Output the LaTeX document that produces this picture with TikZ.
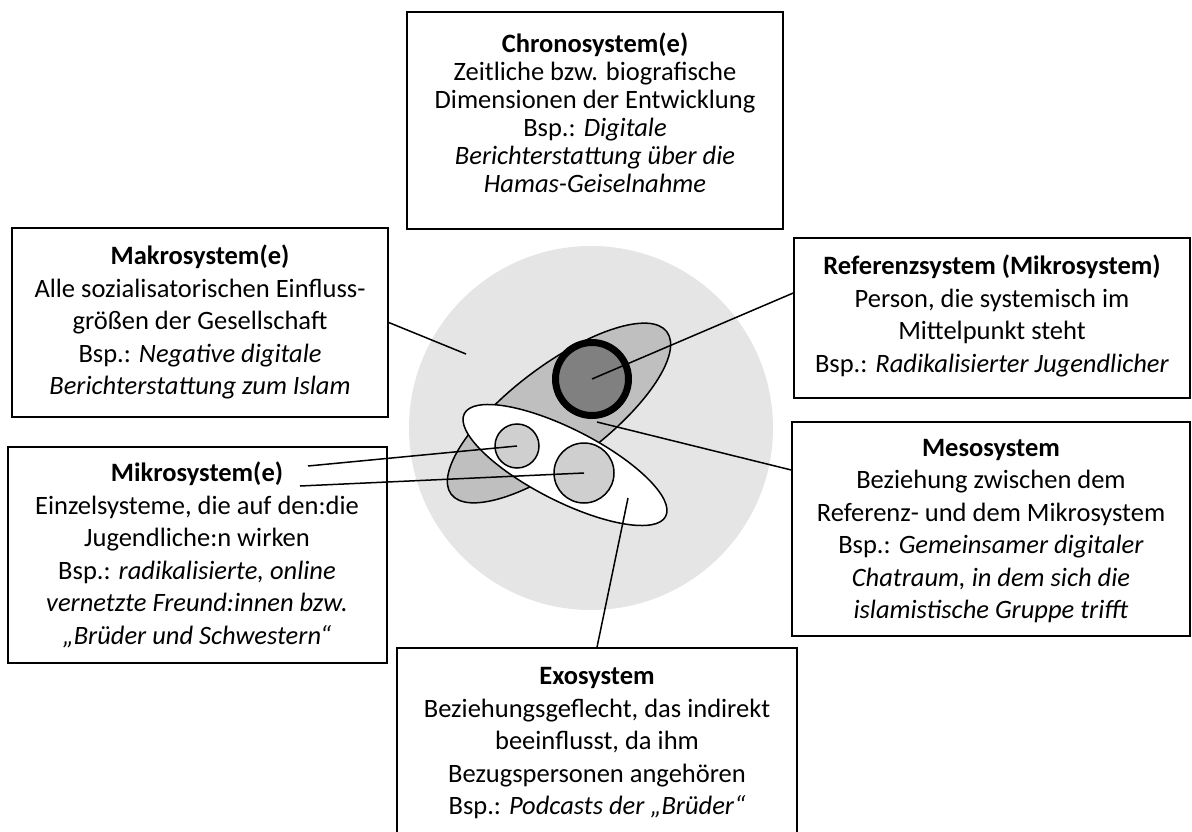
\documentclass[tikz,border=0pt]{standalone}
\usepackage{fontspec}
\setmainfont{Carlito}
\usetikzlibrary{shapes.geometric}
\begin{document}
\begin{tikzpicture}[x=1pt,y=-1pt,
  box/.style={draw=black,line width=1.5pt,fill=white,rectangle,inner sep=0pt},
  txt/.style={align=center,inner sep=0pt,font=\fontsize{26.5}{32.5}\selectfont},
  conn/.style={draw=black,line width=1.5pt},
  shapeline/.style={draw=black,line width=1.5pt}]
\useasboundingbox (0,0) rectangle (1192,832);
\begin{scope}
\clip (0,0) rectangle (1192,832);
% boxes
\node[box,minimum width=376pt,minimum height=217pt] (chrono) at (595,120.5) {};
\node[box,minimum width=376pt,minimum height=189pt] (makro) at (200,322.5) {};
\node[box,minimum width=379pt,minimum height=216pt] (mikro) at (197.5,555) {};
\node[box,minimum width=396pt,minimum height=160pt] (referenz) at (992,318) {};
\node[box,minimum width=398pt,minimum height=214pt] (meso) at (991,529) {};
\node[box,minimum width=400pt,minimum height=200pt] (exo) at (597,748) {};
\end{scope}
% central figure
\node[circle,fill=black!10,minimum size=364pt,inner sep=0pt] (makrocirc) at (591,428) {};
\node[ellipse,shapeline,fill=black!25,minimum width=270pt,minimum height=96pt,inner sep=0pt,rotate=37] (meso ell) at (559,413) {};
\node[circle,draw=black,line width=7pt,fill=black!50,minimum size=73pt,inner sep=0pt] (refcirc) at (592,379) {};
\node[ellipse,shapeline,fill=white,minimum width=226pt,minimum height=72pt,inner sep=0pt,rotate=-27] (exoell) at (565,465) {};
\node[circle,shapeline,fill=black!19,minimum size=44pt,inner sep=0pt] (c1) at (517,446) {};
\node[circle,shapeline,fill=black!19,minimum size=60pt,inner sep=0pt] (c2) at (584,473) {};
% texts
\node[txt,font=\fontsize{26.5}{28}\selectfont] (chronoT) at (595,113) {\textbf{Chronosystem(e)}\\Zeitliche bzw. biografische\\Dimensionen der Entwicklung\\Bsp.: \textit{Digitale}\\\textit{Berichterstattung über die}\\\textit{Hamas-Geiselnahme}};
\node[txt] (makroT) at (200,322) {\textbf{Makrosystem(e)}\\Alle sozialisatorischen Einfluss-\\größen der Gesellschaft\\Bsp.: \textit{Negative digitale}\\\textit{Berichterstattung zum Islam}};
\node[txt] (mikroT) at (197,555) {\textbf{Mikrosystem(e)}\\Einzelsysteme, die auf den:die\\Jugendliche:n wirken\\Bsp.: \textit{radikalisierte, online}\\\textit{vernetzte Freund:innen bzw.}\\\textit{„Brüder und Schwestern“}};
\node[txt] (referenzT) at (992,316) {\textbf{Referenzsystem (Mikrosystem)}\\Person, die systemisch im\\Mittelpunkt steht\\Bsp.: \textit{Radikalisierter Jugendlicher}};
\node[txt] (mesoT) at (991,531) {\textbf{Mesosystem}\\Beziehung zwischen dem\\Referenz- und dem Mikrosystem\\Bsp.: \textit{Gemeinsamer digitaler}\\\textit{Chatraum, in dem sich die}\\\textit{islamistische Gruppe trifft}};
\node[txt] (exoT) at (597,743.5) {\textbf{Exosystem}\\Beziehungsgeflecht, das indirekt\\beeinflusst, da ihm\\Bezugspersonen angehören\\Bsp.: \textit{Podcasts der „Brüder“}};
% connector ends
\coordinate (makroEnd) at (466,354);
\coordinate (mikroA) at (308,466);
\coordinate (mikroB) at (300,486);
\coordinate (mesoEnd) at (597,422);
\coordinate (exoEnd) at (628,498);
% connectors
\draw[conn] (makro.east) -- (makroEnd);
\draw[conn] ([yshift=25pt]referenz.west) -- (refcirc.center);
\draw[conn] ([yshift=59pt]meso.west) -- (mesoEnd);
\draw[conn] (mikroA) -- (c1.center);
\draw[conn] (mikroB) -- (c2.center);
\draw[conn] (exo.north) -- (exoEnd);
\end{tikzpicture}
\end{document}
